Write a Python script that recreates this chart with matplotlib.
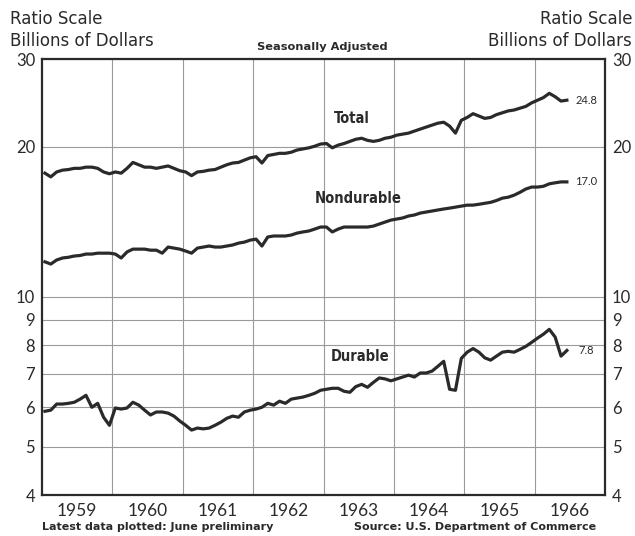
import numpy as np
import matplotlib
matplotlib.use("Agg")
import matplotlib.pyplot as plt
from matplotlib.ticker import NullLocator, FixedLocator

# Monthly data, January 1959 through June 1966 (billions of dollars)
total = [17.7, 17.4, 17.8, 17.95, 18.0, 18.1, 18.1, 18.2, 18.2, 18.1, 17.8, 17.65,
         17.8, 17.7, 18.1, 18.6, 18.4, 18.2, 18.2, 18.1, 18.2, 18.3, 18.1, 17.9,
         17.8, 17.5, 17.8, 17.85, 17.95, 18.0, 18.2, 18.4, 18.55, 18.6, 18.8, 19.0,
         19.1, 18.55, 19.2, 19.3, 19.4, 19.4, 19.5, 19.7, 19.8, 19.9, 20.05, 20.25,
         20.3, 19.9, 20.15, 20.3, 20.5, 20.7, 20.8, 20.6, 20.5, 20.6, 20.8, 20.9,
         21.1, 21.2, 21.3, 21.5, 21.7, 21.9, 22.1, 22.3, 22.4, 22.0, 21.3, 22.6,
         22.9, 23.3, 23.05, 22.8, 22.9, 23.2, 23.4, 23.6, 23.7, 23.9, 24.1, 24.5,
         24.8, 25.1, 25.6, 25.2, 24.7, 24.8]

nondurable = [11.75, 11.63, 11.85, 11.96, 12.0, 12.07, 12.1, 12.18, 12.18, 12.23, 12.23, 12.23,
              12.18, 11.96, 12.3, 12.46, 12.46, 12.46, 12.4, 12.4, 12.23, 12.58, 12.52, 12.46,
              12.35, 12.23, 12.52, 12.58, 12.64, 12.58, 12.58, 12.64, 12.7, 12.81, 12.87, 12.99,
              13.05, 12.64, 13.18, 13.24, 13.24, 13.24, 13.3, 13.42, 13.49, 13.55, 13.67, 13.8,
              13.8, 13.49, 13.67, 13.8, 13.8, 13.8, 13.8, 13.8, 13.86, 13.99, 14.12, 14.25,
              14.32, 14.39, 14.52, 14.59, 14.72, 14.79, 14.86, 14.93, 15.0, 15.06, 15.13, 15.2,
              15.27, 15.27, 15.33, 15.4, 15.47, 15.6, 15.77, 15.84, 15.99, 16.2, 16.45, 16.6,
              16.6, 16.66, 16.85, 16.93, 17.0, 17.0]

durable = [5.89, 5.92, 6.09, 6.09, 6.11, 6.14, 6.23, 6.34, 6.0, 6.11, 5.73, 5.52,
           5.98, 5.95, 5.98, 6.14, 6.06, 5.92, 5.79, 5.87, 5.87, 5.84, 5.76, 5.63,
           5.52, 5.40, 5.45, 5.43, 5.45, 5.52, 5.60, 5.70, 5.76, 5.73, 5.87, 5.92,
           5.95, 6.0, 6.11, 6.06, 6.17, 6.11, 6.23, 6.26, 6.29, 6.34, 6.40, 6.49,
           6.52, 6.55, 6.55, 6.46, 6.43, 6.6, 6.67, 6.58, 6.73, 6.87, 6.84, 6.78,
           6.84, 6.9, 6.96, 6.9, 7.03, 7.03, 7.09, 7.25, 7.42, 6.52, 6.49, 7.52,
           7.74, 7.87, 7.74, 7.54, 7.46, 7.6, 7.74, 7.77, 7.74, 7.84, 7.95, 8.10,
           8.26, 8.41, 8.6, 8.3, 7.6, 7.8]

years = [1959, 1960, 1961, 1962, 1963, 1964, 1965, 1966]
y_ticks = [4, 5, 6, 7, 8, 9, 10, 20, 30]

months = np.arange(len(total))
x = 1959 + (months + 0.5) / 12

ink = "#2a2a2a"
grid_col = "#9a9a9a"

fig = plt.figure(figsize=(6.35, 5.36), dpi=100)
ax = fig.add_axes([42 / 635, 1 - 495 / 536, 563 / 635, 436 / 536])

for series in (total, nondurable, durable):
    ax.plot(x, series, color=ink, lw=2.3, solid_joinstyle="round", zorder=3)

ax.set_yscale("log")
ax.set_ylim(4, 30)
ax.set_xlim(1959, 1967)
ax.yaxis.set_major_locator(FixedLocator(y_ticks))
ax.yaxis.set_minor_locator(NullLocator())
ax.set_yticklabels([str(v) for v in y_ticks])

ax.set_xticks([yr + 0.5 for yr in years])
ax.set_xticklabels([str(yr) for yr in years])
ax.set_xticks(years[1:], minor=True)

ax.grid(True, which="major", axis="y", color=grid_col, lw=0.8)
ax.grid(True, which="minor", axis="x", color=grid_col, lw=0.8)
ax.set_axisbelow(True)

ax.tick_params(axis="both", which="both", length=0)
ax.tick_params(axis="y", labelleft=True, labelright=True, labelsize=12,
               labelcolor=ink, pad=5)
ax.tick_params(axis="x", labelsize=12.5, labelcolor=ink, pad=6)
for lab in ax.get_yticklabels() + ax.get_xticklabels():
    lab.set_family("Lato")

for sp in ax.spines.values():
    sp.set_color(ink)
    sp.set_linewidth(1.6)

# series labels
lab_font = dict(family="DejaVu Sans", fontstretch="condensed", weight="bold",
                color=ink, fontsize=10.5, ha="center", va="center")
ax.text(1963.40, 22.8, "Total", **lab_font)
ax.text(1963.49, 15.75, "Nondurable", **lab_font)
ax.text(1963.52, 7.6, "Durable", **lab_font)

val_font = dict(family="Lato", color=ink, fontsize=8, va="center", ha="left")
ax.text(1966.58, total[-1], "24.8", **val_font)
ax.text(1966.58, nondurable[-1], "17.0", **val_font)
ax.text(1966.62, durable[-1], "7.8", **val_font)

# header and footer texts
hdr = dict(family="DejaVu Sans", color=ink, fontsize=12)
fig.text(10 / 635, 1 - 19 / 536, "Ratio Scale", va="center", ha="left", **hdr)
fig.text(10 / 635, 1 - 41 / 536, "Billions of Dollars", va="center", ha="left", **hdr)
fig.text(632 / 635, 1 - 19 / 536, "Ratio Scale", va="center", ha="right", **hdr)
fig.text(632 / 635, 1 - 41 / 536, "Billions of Dollars", va="center", ha="right", **hdr)
fig.text(322 / 635, 1 - 47 / 536, "Seasonally Adjusted", va="center", ha="center",
         family="DejaVu Sans", weight="bold", color=ink, fontsize=8.2)

foot = dict(va="center", family="DejaVu Sans", weight="bold", color=ink, fontsize=8)
fig.text(42 / 635, 1 - 527 / 536, "Latest data plotted: June preliminary",
         ha="left", **foot)
fig.text(596 / 635, 1 - 527 / 536, "Source: U.S. Department of Commerce",
         ha="right", **foot)

fig.savefig("out.png", dpi=100)
